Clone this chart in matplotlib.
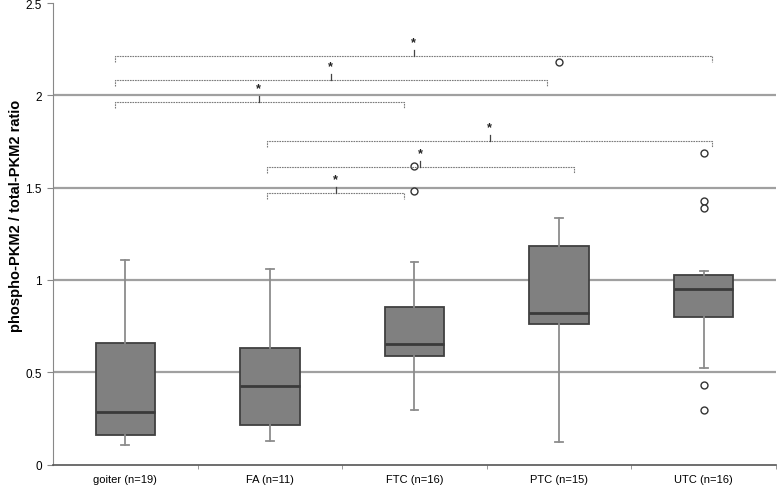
import matplotlib
matplotlib.use("Agg")
import matplotlib.pyplot as plt

# box statistics
groups = ["goiter (n=19)", "FA (n=11)", "FTC (n=16)", "PTC (n=15)", "UTC (n=16)"]
whislo = [0.106, 0.126, 0.297, 0.124, 0.525]
q1 = [0.159, 0.216, 0.587, 0.762, 0.798]
med = [0.283, 0.427, 0.653, 0.821, 0.950]
q3 = [0.657, 0.633, 0.852, 1.186, 1.027]
whishi = [1.110, 1.060, 1.097, 1.334, 1.047]
outliers = [[], [], [1.619, 1.480], [2.183], [1.688, 1.430, 1.388, 0.431, 0.297]]

# significance brackets: left end, right end (category units), height, star position
br_left = [-0.073, -0.073, -0.073, 0.983, 0.983, 0.983]
br_right = [4.055, 2.915, 1.926, 4.055, 3.100, 1.926]
br_y = [2.212, 2.083, 1.963, 1.751, 1.610, 1.470]
br_star = [1.995, 1.420, 0.923, 2.520, 2.040, 1.456]

plt.rcParams["font.family"] = ["Liberation Sans", "DejaVu Sans"]

fig = plt.figure(figsize=(7.78, 4.89), dpi=100)
ax = fig.add_axes([0.0681, 0.0479, 0.9293, 0.9439])

stats = []
for i in range(len(groups)):
    stats.append({"whislo": whislo[i], "q1": q1[i], "med": med[i], "q3": q3[i],
                  "whishi": whishi[i], "fliers": outliers[i]})

ax.bxp(stats, positions=range(len(groups)), widths=0.41, capwidths=0.055,
       patch_artist=True, zorder=3,
       boxprops=dict(facecolor="#808080", edgecolor="#404040", linewidth=1.3),
       medianprops=dict(color="#3a3a3a", linewidth=2),
       whiskerprops=dict(color="#8c8c8c", linewidth=1.3),
       capprops=dict(color="#8c8c8c", linewidth=1.3),
       flierprops=dict(marker="o", markersize=5, markerfacecolor="white",
                       markeredgecolor="#333333", markeredgewidth=1.0))

for y in [0.5, 1.0, 1.5, 2.0]:
    ax.axhline(y, color="#a0a0a0", linewidth=1.6, zorder=1)

drop = 0.033
for x0, x1, y, xs in zip(br_left, br_right, br_y, br_star):
    ax.plot([x0, x0, x1, x1], [y - drop, y, y, y - drop], color="#7a7a7a",
            linewidth=0.8, linestyle=(0, (1.5, 0.8)), zorder=4)
    ax.plot([xs, xs], [y, y + 0.035], color="#444444", linewidth=0.9, zorder=4)
    ax.text(xs, y + 0.045, "*", ha="center", va="bottom", fontsize=9,
            fontweight="bold", color="#222222")

ax.set_xlim(-0.5, len(groups) - 0.5)
ax.set_ylim(0, 2.5)
ax.set_yticks([0, 0.5, 1, 1.5, 2, 2.5], labels=["0", "0.5", "1", "1.5", "2", "2.5"])
ax.set_xticks(range(len(groups)), labels=groups)
ax.set_xticks([i + 0.5 for i in range(len(groups))], minor=True)
ax.tick_params(axis="x", which="major", length=0, labelsize=8, pad=7)
ax.tick_params(axis="x", which="minor", length=3, color="#888888")
ax.tick_params(axis="y", length=4, color="#888888", labelsize=8.5, pad=4)

for s in ["top", "right"]:
    ax.spines[s].set_visible(False)
ax.spines["left"].set_color("#888888")
ax.spines["bottom"].set_color("#555555")
ax.spines["bottom"].set_linewidth(1.2)

ax.set_ylabel("phospho-PKM2 / total-PKM2 ratio", fontsize=10.5, fontweight="bold")
ax.yaxis.set_label_coords(-0.041, 0.54)

fig.savefig("out.png", dpi=100)
